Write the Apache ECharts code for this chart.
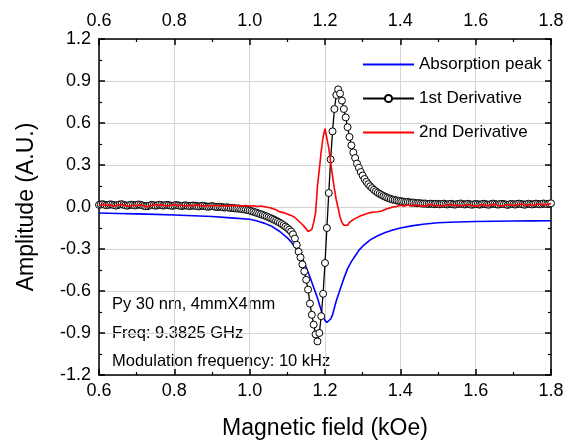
<!DOCTYPE html>
<html>
<head>
<meta charset="utf-8">
<script src="https://cdn.jsdelivr.net/npm/echarts@6/dist/echarts.min.js"></script>
<style>html,body{margin:0;padding:0;background:#fff}#c{width:571px;height:441px}</style>
</head>
<body>
<div id="c"></div>
<script>
// ---- Data ----
const seriesNames = ['Absorption peak', '1st Derivative', '2nd Derivative'];
const xTicks = [0.6, 0.8, 1.0, 1.2, 1.4, 1.6, 1.8];
const yTicks = [-1.2, -0.9, -0.6, -0.3, 0.0, 0.3, 0.6, 0.9, 1.2];
const notes = ['Py 30 nm, 4mmX4mm', 'Freq: 9.3825 GHz', 'Modulation frequency: 10 kHz'];

// 1st derivative (circles)
const derivField = [
0.600,0.605,0.610,0.615,0.620,0.625,0.630,0.635,0.640,0.645,0.650,0.655,0.660,0.665,0.670,0.675,0.680,0.685,0.690,0.695,
0.700,0.705,0.710,0.715,0.720,0.725,0.730,0.735,0.740,0.745,0.750,0.755,0.760,0.765,0.770,0.775,0.780,0.785,0.790,0.795,
0.800,0.805,0.810,0.815,0.820,0.825,0.830,0.835,0.840,0.845,0.850,0.855,0.860,0.865,0.870,0.875,0.880,0.885,0.890,0.895,
0.900,0.905,0.910,0.915,0.920,0.925,0.930,0.935,0.940,0.945,0.950,0.955,0.960,0.965,0.970,0.975,0.980,0.985,0.990,0.995,
1.000,1.005,1.010,1.015,1.020,1.025,1.030,1.035,1.040,1.045,1.050,1.055,1.060,1.065,1.070,1.075,1.080,1.085,1.090,1.095,
1.100,1.105,1.110,1.115,1.120,1.125,1.130,1.135,1.140,1.145,1.150,1.155,1.160,1.165,1.170,1.175,1.180,1.185,1.190,1.195,
1.200,1.205,1.210,1.215,1.220,1.225,1.230,1.235,1.240,1.245,1.250,1.255,1.260,1.265,1.270,1.275,1.280,1.285,1.290,1.295,
1.300,1.305,1.310,1.315,1.320,1.325,1.330,1.335,1.340,1.345,1.350,1.355,1.360,1.365,1.370,1.375,1.380,1.385,1.390,1.395,
1.400,1.405,1.410,1.415,1.420,1.425,1.430,1.435,1.440,1.445,1.450,1.455,1.460,1.465,1.470,1.475,1.480,1.485,1.490,1.495,
1.500,1.505,1.510,1.515,1.520,1.525,1.530,1.535,1.540,1.545,1.550,1.555,1.560,1.565,1.570,1.575,1.580,1.585,1.590,1.595,
1.600,1.605,1.610,1.615,1.620,1.625,1.630,1.635,1.640,1.645,1.650,1.655,1.660,1.665,1.670,1.675,1.680,1.685,1.690,1.695,
1.700,1.705,1.710,1.715,1.720,1.725,1.730,1.735,1.740,1.745,1.750,1.755,1.760,1.765,1.770,1.775,1.780,1.785,1.790,1.795,
1.800];
const deriv1 = [
0.015,0.018,0.020,0.016,0.012,0.015,0.019,0.017,0.013,0.010,0.014,0.018,0.020,0.016,0.012,0.009,0.013,0.017,0.015,0.011,
0.014,0.018,0.016,0.012,0.008,0.005,0.007,0.011,0.015,0.013,0.009,0.012,0.016,0.014,0.010,0.012,0.015,0.013,0.010,0.008,
0.011,0.014,0.012,0.009,0.007,0.010,0.012,0.009,0.006,0.008,0.011,0.009,0.006,0.004,0.007,0.009,0.007,0.004,0.002,0.004,
0.006,0.004,0.001,0.000,0.002,0.000,-0.003,-0.004,-0.002,-0.005,-0.007,-0.006,-0.009,-0.011,-0.010,-0.013,-0.016,-0.017,-0.019,-0.022,
-0.026,-0.030,-0.034,-0.038,-0.043,-0.047,-0.052,-0.057,-0.062,-0.067,-0.073,-0.079,-0.085,-0.091,-0.098,-0.105,-0.113,-0.121,-0.130,-0.140,
-0.150,-0.162,-0.175,-0.195,-0.225,-0.270,-0.320,-0.360,-0.410,-0.460,-0.520,-0.590,-0.690,-0.770,-0.840,-0.910,-0.960,-0.900,-0.780,-0.620,
-0.400,-0.150,0.100,0.340,0.540,0.700,0.800,0.840,0.810,0.760,0.700,0.640,0.570,0.500,0.440,0.390,0.350,0.310,0.280,0.250,
0.225,0.200,0.180,0.163,0.148,0.135,0.123,0.112,0.102,0.094,0.086,0.079,0.073,0.067,0.062,0.057,0.053,0.050,0.047,0.044,
0.042,0.040,0.037,0.035,0.036,0.033,0.031,0.032,0.029,0.027,0.028,0.026,0.024,0.025,0.023,0.021,0.024,0.022,0.020,0.023,
0.021,0.019,0.022,0.024,0.020,0.018,0.021,0.023,0.019,0.017,0.020,0.022,0.025,0.021,0.018,0.020,0.023,0.019,0.016,0.019,
0.022,0.020,0.017,0.019,0.023,0.021,0.018,0.016,0.020,0.024,0.022,0.019,0.017,0.021,0.023,0.020,0.018,0.015,0.019,0.022,
0.020,0.017,0.021,0.024,0.022,0.019,0.016,0.020,0.023,0.021,0.018,0.020,0.024,0.022,0.019,0.021,0.025,0.023,0.020,0.024,
0.026];

// Absorption peak
const absField = [0.60,0.65,0.70,0.75,0.80,0.85,0.90,0.95,1.00,1.02,1.04,1.06,1.08,1.10,1.11,1.12,1.13,1.14,1.15,1.16,1.17,1.18,1.19,1.195,1.20,1.205,1.21,1.215,1.22,1.225,1.23,1.235,1.24,1.25,1.26,1.27,1.28,1.29,1.30,1.32,1.34,1.36,1.38,1.40,1.43,1.46,1.50,1.55,1.60,1.65,1.70,1.75,1.80];
const absorption = [-0.043,-0.046,-0.049,-0.053,-0.057,-0.062,-0.068,-0.078,-0.088,-0.100,-0.117,-0.140,-0.175,-0.220,-0.250,-0.285,-0.325,-0.370,-0.430,-0.500,-0.575,-0.650,-0.740,-0.780,-0.810,-0.825,-0.820,-0.800,-0.770,-0.720,-0.670,-0.630,-0.590,-0.510,-0.440,-0.390,-0.350,-0.310,-0.280,-0.235,-0.205,-0.182,-0.165,-0.150,-0.135,-0.123,-0.113,-0.107,-0.104,-0.102,-0.100,-0.099,-0.098];

// 2nd derivative
const d2Field = [
0.60,0.61,0.62,0.63,0.64,0.65,0.66,0.67,0.68,0.69,
0.70,0.71,0.72,0.73,0.74,0.75,0.76,0.77,0.78,0.79,
0.80,0.81,0.82,0.83,0.84,0.85,0.86,0.87,0.88,0.89,
0.90,0.91,0.92,0.93,0.94,0.95,0.96,0.97,0.98,0.99,
1.00,1.01,1.02,1.03,1.04,1.05,1.06,1.07,1.08,1.09,1.10,
1.105,1.110,1.115,1.120,1.125,1.130,1.135,1.140,1.145,1.150,
1.155,1.160,1.165,1.170,1.175,1.180,1.185,1.190,1.195,1.200,
1.205,1.210,1.215,1.220,1.225,1.230,1.235,1.240,1.245,1.250,
1.255,1.260,1.265,1.270,1.275,1.280,1.285,1.290,1.295,1.300,
1.31,1.32,1.33,1.34,1.35,1.36,1.37,1.38,1.39,1.40,
1.41,1.42,1.43,1.44,1.45,1.46,1.47,1.48,1.49,1.50,
1.51,1.52,1.53,1.54,1.55,1.56,1.57,1.58,1.59,1.60,
1.61,1.62,1.63,1.64,1.65,1.66,1.67,1.68,1.69,1.70,
1.71,1.72,1.73,1.74,1.75,1.76,1.77,1.78,1.79,1.80];
const deriv2 = [
0.012,0.018,0.010,0.016,0.006,0.013,0.020,0.011,0.004,0.014,
0.009,0.017,0.008,0.001,0.012,0.018,0.010,0.015,0.007,0.013,
0.017,0.009,0.014,0.006,0.012,0.008,0.015,0.010,0.005,0.011,
0.007,0.013,0.008,0.011,0.006,0.010,0.012,0.007,0.009,0.011,
0.006,0.009,0.004,0.007,0.002,-0.004,-0.010,-0.020,-0.035,-0.040,-0.050,
-0.055,-0.060,-0.066,-0.075,-0.088,-0.100,-0.112,-0.125,-0.140,-0.155,
-0.175,-0.180,-0.160,-0.110,-0.040,0.150,0.270,0.400,0.500,0.560,
0.550,0.420,0.320,0.220,0.130,0.050,-0.010,-0.070,-0.110,-0.130,
-0.140,-0.130,-0.110,-0.100,-0.090,-0.082,-0.076,-0.068,-0.062,-0.055,
-0.048,-0.040,-0.036,-0.034,-0.028,-0.018,-0.008,0.000,0.004,0.012,
0.006,0.014,0.008,0.016,0.010,0.004,0.012,0.018,0.009,0.014,
0.006,0.013,0.019,0.010,0.015,0.007,0.012,0.018,0.011,0.006,
0.013,0.017,0.009,0.015,0.019,0.011,0.007,0.014,0.018,0.010,
0.016,0.021,0.012,0.017,0.011,0.018,0.022,0.013,0.019,0.024];

// ---- Chart ----
const zip = (xs, ys) => xs.map((x, i) => [x, ys[i]]);
const FONT = '"Liberation Sans", Arial, sans-serif';
const xMin = xTicks[0], xMax = xTicks[xTicks.length - 1];
const yMin = yTicks[0], yMax = yTicks[yTicks.length - 1];

function xAxisCfg(pos, showLabel, showSplit, name) {
  return {
    type: 'value', position: pos, min: xMin, max: xMax, interval: 0.2,
    name: name || '', nameLocation: 'middle', nameGap: 42,
    nameTextStyle: { fontFamily: FONT, fontSize: 23, color: '#000' },
    axisLine: { show: true, onZero: false, lineStyle: { color: '#000', width: 1.5 } },
    axisTick: { show: true, inside: true, length: 6, lineStyle: { color: '#000', width: 1.5 } },
    minorTick: { show: true, splitNumber: 2, length: 3, lineStyle: { color: '#000', width: 1.2 } },
    axisLabel: { show: showLabel, fontFamily: FONT, fontSize: 18, color: '#000', margin: pos === 'top' ? 9 : 7,
      formatter: v => v.toFixed(1), showMinLabel: true, showMaxLabel: true },
    splitLine: { show: showSplit, lineStyle: { color: '#d4d4d4', width: 1 } }
  };
}
function yAxisCfg(pos, showLabel, showSplit, name) {
  return {
    type: 'value', position: pos, min: yMin, max: yMax, interval: 0.3,
    name: name || '', nameLocation: 'middle', nameGap: 61,
    nameTextStyle: { fontFamily: FONT, fontSize: 23, color: '#000' },
    axisLine: { show: true, onZero: false, lineStyle: { color: '#000', width: 1.5 } },
    axisTick: { show: true, inside: true, length: 6, lineStyle: { color: '#000', width: 1.5 } },
    minorTick: { show: true, splitNumber: 2, length: 3, lineStyle: { color: '#000', width: 1.2 } },
    axisLabel: { show: showLabel, fontFamily: FONT, fontSize: 18, color: '#000', margin: 8,
      formatter: v => v.toFixed(1), showMinLabel: true, showMaxLabel: true },
    splitLine: { show: showSplit, lineStyle: { color: '#d4d4d4', width: 1 } }
  };
}

const hidden = { color: 'rgba(0,0,0,0)', borderColor: 'rgba(0,0,0,0)', borderWidth: 0 };

const chart = echarts.init(document.getElementById('c'), null, { renderer: 'canvas' });
chart.setOption({
  animation: false,
  backgroundColor: '#fff',
  grid: { left: 99, right: 20, top: 39, bottom: 66, containLabel: false, outerBoundsMode: 'none' },
  xAxis: [xAxisCfg('bottom', true, true, 'Magnetic field (kOe)'), xAxisCfg('top', true, false)],
  yAxis: [yAxisCfg('left', true, true, 'Amplitude (A.U.)'), yAxisCfg('right', false, false)],
  legend: {
    orient: 'vertical', left: 357, top: 51, itemGap: 17, itemWidth: 51, itemHeight: 9,
    textStyle: { fontFamily: FONT, fontSize: 17, color: '#000' },
    data: [
      { name: seriesNames[0], itemStyle: hidden },
      { name: seriesNames[1] },
      { name: seriesNames[2], itemStyle: hidden }
    ]
  },
  graphic: notes.map((t, i) => ({
    type: 'text', left: 112, top: 296 + i * 28.5,
    style: { text: t, font: '16.5px ' + FONT, fill: '#000' }
  })),
  series: [
    { name: seriesNames[0], type: 'line', data: zip(absField, absorption), showSymbol: false, symbol: 'none',
      lineStyle: { color: '#0000ff', width: 1.6 }, itemStyle: { color: '#0000ff' }, z: 2 },
    { name: seriesNames[1], type: 'line', data: zip(derivField, deriv1), symbol: 'circle', symbolSize: 7, showSymbol: true,
      lineStyle: { color: '#000', width: 1.3 }, itemStyle: { color: '#fff', borderColor: '#000', borderWidth: 1 }, z: 3 },
    { name: seriesNames[2], type: 'line', data: zip(d2Field, deriv2), showSymbol: false, symbol: 'none',
      lineStyle: { color: '#ff0000', width: 1.6 }, itemStyle: { color: '#ff0000' }, z: 4 }
  ]
});
</script>
</body>
</html>
